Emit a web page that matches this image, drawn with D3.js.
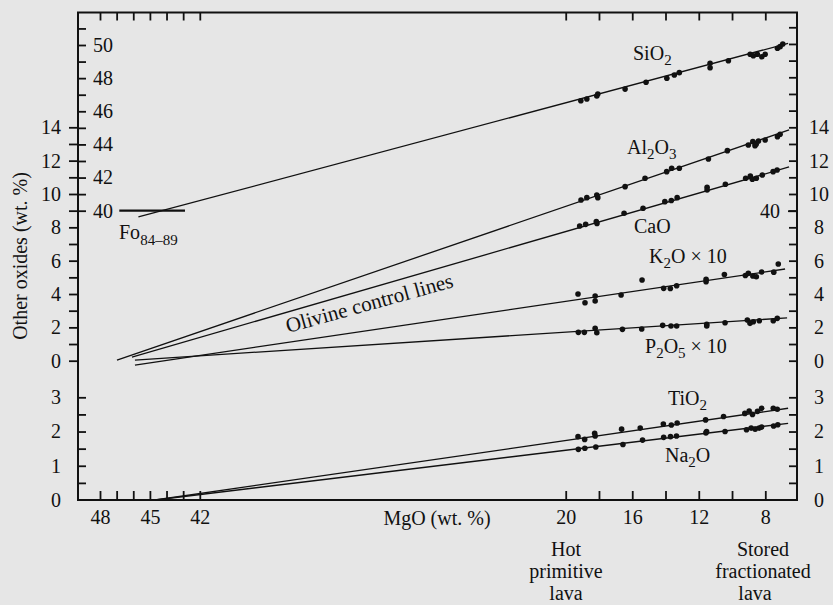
<!DOCTYPE html>
<html>
<head>
<meta charset="utf-8">
<script src="https://cdn.jsdelivr.net/npm/d3@7"></script>
<style>
  html, body { margin: 0; padding: 0; background: #e6e6e6; }
  svg { display: block; font-family: "Liberation Serif", "Times New Roman", serif; }
</style>
</head>
<body>
<svg id="chart" width="833" height="605"></svg>
<script>
// ---------------- data ----------------
// MgO axis ticks: olivine end (left) and lava end (right)
const mgoTicksOlivine = [48, 47, 46, 45, 44, 43, 42];
const mgoLabelsOlivine = [48, 45, 42];
const mgoTicksLava = [20, 18, 16, 14, 12, 10, 8];
const mgoLabelsLava = [20, 16, 12, 8];

// SiO2 scale (inner left), other-oxides scale, TiO2/Na2O scale
const sio2Ticks = [40, 41, 42, 43, 44, 45, 46, 47, 48, 49, 50, 51];
const sio2Labels = [40, 42, 44, 46, 48, 50];
const oxideTicks = [0, 1, 2, 3, 4, 5, 6, 7, 8, 9, 10, 11, 12, 13, 14];
const oxideTicksRight = [0, 1, 2, 3, 4, 5, 6, 7, 8, 9, 10, 11, 12, 13, 14, 15, 16, 17, 18, 19, 20];
const oxideLabels = [0, 2, 4, 6, 8, 10, 12, 14];
const smallTicks = [0.5, 1, 1.5, 2, 2.5, 3];
const smallLabels = [0, 1, 2, 3];

// oxide series (K2O and P2O5 plotted x10)
const oxides = ["SiO2", "Al2O3", "CaO", "K2O", "P2O5", "TiO2", "Na2O"];
const oxideScaleKind = ["sio2", "oxide", "oxide", "oxide", "oxide", "small", "small"];

// olivine control lines: start (olivine end) and end (fractionated end)
const controlStartMgO = [45.69, 46.98, 46.08, 45.90, 45.90, 44.69, 44.69];
const controlStartValue = [39.62, 0.04, 0.22, -0.26, 0.04, 0.0, 0.0];
const controlEndMgO = [6.63, 6.57, 6.57, 6.81, 6.69, 6.63, 6.63];
const controlEndValue = [50.10, 13.84, 11.62, 5.50, 2.57, 2.68, 2.24];

// olivine composition range Fo84-89 (MgO range at SiO2 = 40)
const foMgO = [46.84, 42.89];
const foSiO2 = 40;

// lava analyses [MgO, oxide wt.%]
const sio2Points = [[19.09,46.64],[18.73,46.74],[18.13,46.92],[18.07,47.04],[16.43,47.34],[15.17,47.75],[13.92,47.99],[13.47,48.19],[13.17,48.33],[11.32,48.90],[11.32,48.63],[10.22,49.05],[8.91,49.44],[8.72,49.35],[8.48,49.44],[8.21,49.29],[8.01,49.44],[7.27,49.80],[7.11,49.90],[6.95,50.06]];
const al2o3Points = [[19.08,9.64],[18.73,9.78],[18.13,9.94],[18.07,9.78],[16.43,10.44],[15.23,10.94],[13.93,11.34],[13.63,11.54],[13.17,11.54],[11.42,12.10],[10.28,12.60],[9.02,12.94],[8.75,13.14],[8.62,12.90],[8.55,12.98],[8.41,13.18],[8.01,13.24],[7.27,13.44],[7.11,13.58]];
const caoPoints = [[19.16,8.08],[18.80,8.18],[18.16,8.34],[18.12,8.23],[16.49,8.84],[15.35,9.14],[14.04,9.54],[13.65,9.61],[13.30,9.78],[11.50,10.40],[11.50,10.24],[10.40,10.58],[9.18,10.94],[8.90,11.08],[8.78,10.88],[8.54,10.94],[8.18,11.14],[7.53,11.34],[7.29,11.44]];
const k2oPoints = [[19.26,4.00],[18.84,3.48],[18.23,3.88],[18.23,3.58],[16.67,3.94],[15.41,4.84],[14.11,4.34],[13.71,4.33],[13.33,4.50],[11.56,4.74],[11.56,4.88],[10.46,5.17],[9.20,5.11],[9.02,5.24],[8.75,5.08],[8.54,5.04],[8.22,5.32],[7.49,5.31],[7.22,5.80]];
const p2o5Points = [[19.24,1.70],[18.88,1.70],[18.23,1.94],[18.13,1.68],[16.59,1.88],[15.43,1.90],[14.17,2.12],[13.67,2.08],[13.33,2.08],[11.52,2.18],[11.52,2.08],[10.42,2.28],[9.08,2.44],[8.92,2.24],[8.72,2.34],[8.36,2.40],[7.52,2.40],[7.28,2.54]];
const tio2Points = [[19.26,1.85],[18.86,1.77],[18.26,1.95],[18.23,1.87],[16.64,2.07],[15.52,2.10],[14.13,2.22],[13.65,2.19],[13.30,2.25],[11.59,2.34],[10.51,2.44],[9.23,2.53],[8.97,2.60],[8.77,2.50],[8.47,2.59],[8.22,2.68],[7.52,2.68],[7.28,2.65]];
const na2oPoints = [[19.24,1.48],[18.85,1.51],[18.19,1.55],[16.56,1.62],[15.38,1.75],[14.11,1.83],[13.70,1.85],[13.34,1.87],[11.57,1.96],[11.53,2.00],[10.42,2.00],[9.13,2.05],[8.85,2.10],[8.61,2.07],[8.37,2.10],[8.22,2.13],[7.50,2.16],[7.25,2.20]];
const pointSets = [sio2Points, al2o3Points, caoPoints, k2oPoints, p2o5Points, tio2Points, na2oPoints];

// series labels: [text, isSubscript]
const seriesLabels = [
  [["SiO", 0], ["2", 1]],
  [["Al", 0], ["2", 1], ["O", 0], ["3", 1]],
  [["CaO", 0]],
  [["K", 0], ["2", 1], ["O \u00d7 10", 0]],
  [["P", 0], ["2", 1], ["O", 0], ["5", 1], [" \u00d7 10", 0]],
  [["TiO", 0], ["2", 1]],
  [["Na", 0], ["2", 1], ["O", 0]]
];

// ---------------- layout ----------------
const L = 78, R = 797, T = 12.5, B = 500;
const FONT = 20, SUB = 15, INK = "#111";

const svg = d3.select("#chart");
svg.append("rect").attr("width", 833).attr("height", 605).attr("fill", "#e6e6e6");

const x = d3.scaleLinear().domain([48, 8]).range([100, 765.3]);
const ySi = d3.scaleLinear().domain([40, 50]).range([210.7, 45]);
const yOx = d3.scaleLinear().domain([0, 14]).range([360.7, 127.3]);
const ySm = d3.scaleLinear().domain([0, 3]).range([500, 397.3]);
const scaleOf = { sio2: ySi, oxide: yOx, small: ySm };
const intFmt = d3.format("d");

function styleAxis(g) {
  g.select(".domain").remove();
  g.attr("font-family", null).attr("font-size", FONT);
  g.selectAll(".tick line").attr("stroke", INK).attr("stroke-width", 1.8);
  g.selectAll(".tick text").attr("fill", INK);
  return g;
}
function fmt(labels) { return d => labels.includes(d) ? intFmt(d) : ""; }

// x axis: inward ticks top and bottom, labels below
const mgoTicks = mgoTicksOlivine.concat(mgoTicksLava);
const mgoLabels = mgoLabelsOlivine.concat(mgoLabelsLava);
svg.append("g").attr("transform", `translate(0,${B})`)
  .call(d3.axisTop(x).tickValues(mgoTicks).tickSize(9).tickFormat("")).call(styleAxis);
svg.append("g").attr("transform", `translate(0,${B})`)
  .call(d3.axisBottom(x).tickValues(mgoLabels).tickSize(0).tickPadding(10).tickFormat(intFmt)).call(styleAxis);
svg.append("g").attr("transform", `translate(0,${T})`)
  .call(d3.axisBottom(x).tickValues(mgoTicks).tickSize(8).tickFormat("")).call(styleAxis);

// left axis
svg.append("g").attr("transform", `translate(${L},0)`)
  .call(d3.axisLeft(yOx).tickValues(oxideTicks).tickSize(9).tickPadding(8).tickFormat(fmt(oxideLabels))).call(styleAxis);
svg.append("g").attr("transform", `translate(${L},0)`)
  .call(d3.axisRight(ySi).tickValues(sio2Ticks).tickSize(8).tickPadding(7).tickFormat(fmt(sio2Labels))).call(styleAxis);
svg.append("g").attr("transform", `translate(${L},0)`)
  .call(d3.axisRight(ySm).tickValues(smallTicks).tickSize(8).tickFormat("")).call(styleAxis);
svg.append("g").attr("transform", `translate(${L},0)`)
  .call(d3.axisLeft(ySm).tickValues(smallLabels).tickSize(0).tickPadding(17).tickFormat(intFmt)).call(styleAxis);

// right axis
svg.append("g").attr("transform", `translate(${R},0)`)
  .call(d3.axisLeft(yOx).tickValues(oxideTicksRight).tickSize(8).tickFormat("")).call(styleAxis);
svg.append("g").attr("transform", `translate(${R},0)`)
  .call(d3.axisRight(yOx).tickValues(oxideLabels).tickSize(0).tickPadding(22).tickFormat(intFmt)).call(styleAxis)
  .selectAll("text").attr("text-anchor", "middle");
svg.append("g").attr("transform", `translate(${R},0)`)
  .call(d3.axisLeft(ySi).tickValues([40]).tickSize(9).tickPadding(8).tickFormat(intFmt)).call(styleAxis);
svg.append("g").attr("transform", `translate(${R},0)`)
  .call(d3.axisLeft(ySm).tickValues(smallTicks).tickSize(8).tickFormat("")).call(styleAxis);
svg.append("g").attr("transform", `translate(${R},0)`)
  .call(d3.axisRight(ySm).tickValues(smallLabels).tickSize(0).tickPadding(22).tickFormat(intFmt)).call(styleAxis)
  .selectAll("text").attr("text-anchor", "middle");

// frame
svg.append("rect").attr("x", L).attr("y", T).attr("width", R - L).attr("height", B - T)
  .attr("fill", "none").attr("stroke", INK).attr("stroke-width", 2);

// olivine control lines
const line = d3.line();
oxides.forEach((name, i) => {
  const ys = scaleOf[oxideScaleKind[i]];
  svg.append("path")
    .attr("d", line([[x(controlStartMgO[i]), ys(controlStartValue[i])], [x(controlEndMgO[i]), ys(controlEndValue[i])]]))
    .attr("fill", "none").attr("stroke", INK).attr("stroke-width", 1.3);
});

// Fo84-89 olivine bar
svg.append("path")
  .attr("d", line(foMgO.map(m => [x(m), ySi(foSiO2)])))
  .attr("stroke", INK).attr("stroke-width", 2.2);

// lava analyses
oxides.forEach((name, i) => {
  const ys = scaleOf[oxideScaleKind[i]];
  svg.append("g").selectAll("circle").data(pointSets[i]).join("circle")
    .attr("cx", d => x(d[0])).attr("cy", d => ys(d[1])).attr("r", 2.8).attr("fill", INK);
});

// text helpers
function richText(parts, px, py, subShift) {
  const t = svg.append("text").attr("x", px).attr("y", py).attr("font-size", FONT).attr("fill", INK);
  let down = false;
  parts.forEach(([s, sub]) => {
    const tsp = t.append("tspan").text(s);
    if (sub) { tsp.attr("font-size", SUB); if (!down) tsp.attr("dy", subShift); down = true; }
    else { if (down) tsp.attr("dy", -subShift); down = false; }
  });
  return t;
}

// series labels
const labelPos = [[633, 60], [627, 154], [634, 233], [649, 263], [645, 353], [668, 405], [665, 462]];
seriesLabels.forEach((parts, i) => richText(parts, labelPos[i][0], labelPos[i][1], 5));

// Fo label
richText([["Fo", 0], ["84\u201389", 1]], 119, 239, 6);

// control lines label
svg.append("text").attr("transform", "translate(288,333) rotate(-15.5)")
  .attr("font-size", 21).attr("fill", INK).text("Olivine control lines");

// axis titles
svg.append("text").attr("x", 437).attr("y", 524.5).attr("text-anchor", "middle")
  .attr("font-size", FONT).attr("fill", INK).text("MgO (wt. %)");
svg.append("text").attr("transform", "translate(27,256) rotate(-90)").attr("text-anchor", "middle")
  .attr("font-size", FONT).attr("fill", INK).text("Other oxides (wt. %)");

// end-member annotations
const hot = ["Hot", "primitive", "lava"];
const stored = ["Stored", "fractionated", "lava"];
hot.forEach((s, k) => svg.append("text").attr("x", 566).attr("y", 556 + k * 22)
  .attr("text-anchor", "middle").attr("font-size", FONT).attr("fill", INK).text(s));
stored.forEach((s, k) => svg.append("text").attr("x", k === 2 ? 755 : 763).attr("y", 556 + k * 22)
  .attr("text-anchor", "middle").attr("font-size", FONT).attr("fill", INK).text(s));
</script>
</body>
</html>
